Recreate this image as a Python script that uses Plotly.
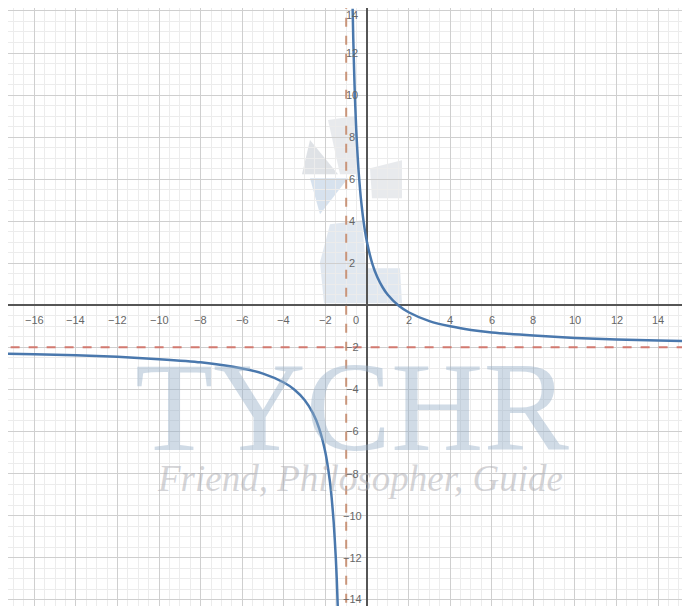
import plotly.graph_objects as go

# Curve points (two branches around the vertical asymptote)
right_x = [-0.69, -0.66, -0.62, -0.58, -0.54, -0.5, -0.45, -0.4, -0.35, -0.3, -0.2, -0.1, 0, 0.25, 0.5, 0.75, 1, 1.5, 2, 3, 4, 5, 6, 8, 10, 12, 14, 15.6]
right_y = [14.1, 12.7, 11.2, 9.9, 8.9, 8.0, 7.1, 6.33, 5.7, 5.14, 4.25, 3.55, 3.0, 2.0, 1.33, 0.86, 0.5, 0.0, -0.33, -0.75, -1.0, -1.17, -1.29, -1.44, -1.55, -1.62, -1.67, -1.70]
left_x = [-17.7, -16, -14, -12, -10, -8, -6, -5, -4, -3.5, -3, -2.6, -2.3, -2, -1.8, -1.7, -1.6, -1.5, -1.45, -1.4]
left_y = [-2.30, -2.33, -2.38, -2.45, -2.56, -2.71, -3.0, -3.25, -3.67, -4.0, -4.5, -5.13, -5.85, -7.0, -8.25, -9.14, -10.33, -12.0, -13.1, -14.5]

h_asym = -2
v_asym = -1

x_ticks = [-16, -14, -12, -10, -8, -6, -4, -2, 2, 4, 6, 8, 10, 12, 14]
y_ticks = [-14, -12, -10, -8, -6, -4, -2, 2, 4, 6, 8, 10, 12, 14]

# page has an 8px body margin, so the figure covers 682x598 of the window
x_range = [-17.26, 15.53]
y_range = [-14.3, 14.14]

fig = go.Figure()

def px2d(px, py):
    return ((px - 367) / 20.8, (305 - py) / 21.0)

def poly(pts, color):
    d = "M " + " L ".join(f"{px2d(a,b)[0]:.3f},{px2d(a,b)[1]:.3f}" for a, b in pts) + " Z"
    fig.add_shape(type="path", path=d, fillcolor=color, line_width=0, layer="below", xref="x", yref="y")

# watermark logo (approximate light shapes)
poly([(310, 140), (338, 174), (302, 174)], "rgba(140,150,165,0.28)")
poly([(328, 120), (356, 116), (356, 174), (340, 174)], "rgba(150,160,175,0.22)")
poly([(370, 168), (402, 160), (402, 198), (372, 198)], "rgba(150,160,175,0.22)")
poly([(310, 178), (348, 178), (320, 214)], "rgba(110,150,195,0.28)")
poly([(330, 224), (362, 220), (366, 268), (400, 268), (402, 303), (324, 303), (320, 262)], "rgba(120,150,185,0.22)")

fig.add_annotation(x=px2d(352, 407)[0], y=px2d(352, 407)[1], text="TYCHR", showarrow=False,
                   font=dict(family="Liberation Serif", size=128, color="rgba(150,175,200,0.45)"))
fig.add_annotation(x=px2d(360, 478)[0], y=px2d(360, 478)[1], text="<i>Friend, Philosopher, Guide</i>", showarrow=False,
                   font=dict(family="Liberation Serif", size=37, color="rgba(170,170,175,0.5)"))

# asymptotes
fig.add_trace(go.Scatter(x=[-18, 16], y=[h_asym, h_asym], mode="lines",
                         line=dict(color="#d27a70", width=2, dash="dash"), hoverinfo="skip", showlegend=False))
fig.add_trace(go.Scatter(x=[v_asym, v_asym], y=[-15, 15], mode="lines",
                         line=dict(color="#c9957a", width=2, dash="dash"), hoverinfo="skip", showlegend=False))

# curve branches
for xs, ys in [(left_x, left_y), (right_x, right_y)]:
    fig.add_trace(go.Scatter(x=xs, y=ys, mode="lines",
                             line=dict(color="#4a78ad", width=2.5, shape="spline", smoothing=0.6),
                             showlegend=False))

# tick labels near axes
lab_font = dict(family="Liberation Sans", size=11, color="#666")
for t in x_ticks:
    fig.add_annotation(x=t, y=-0.72, text=f"\u2212{abs(t)}" if t < 0 else str(t), showarrow=False, font=lab_font)
fig.add_annotation(x=-0.55, y=-0.72, text="0", showarrow=False, font=lab_font)
for t in y_ticks:
    yy = t
    if t == 14:
        yy = 13.8
    elif t == -14:
        yy = -13.95
    fig.add_annotation(x=-0.7, y=yy, text=f"\u2212{abs(t)}" if t < 0 else str(t),
                       showarrow=False, font=lab_font)

fig.update_layout(
    width=682, height=598, margin=dict(l=0, r=0, t=0, b=0),
    plot_bgcolor="white", paper_bgcolor="white",
    xaxis=dict(range=x_range, dtick=2, showticklabels=False, showgrid=True, gridcolor="#cfcfcf", gridwidth=1,
               zeroline=True, zerolinecolor="#555", zerolinewidth=1.5,
               minor=dict(dtick=0.5, showgrid=True, gridcolor="#ececec", gridwidth=1)),
    yaxis=dict(range=y_range, dtick=2, showticklabels=False, showgrid=True, gridcolor="#cfcfcf", gridwidth=1,
               zeroline=True, zerolinecolor="#555", zerolinewidth=1.5,
               minor=dict(dtick=0.5, showgrid=True, gridcolor="#ececec", gridwidth=1)),
)

fig.write_html("out.html")
